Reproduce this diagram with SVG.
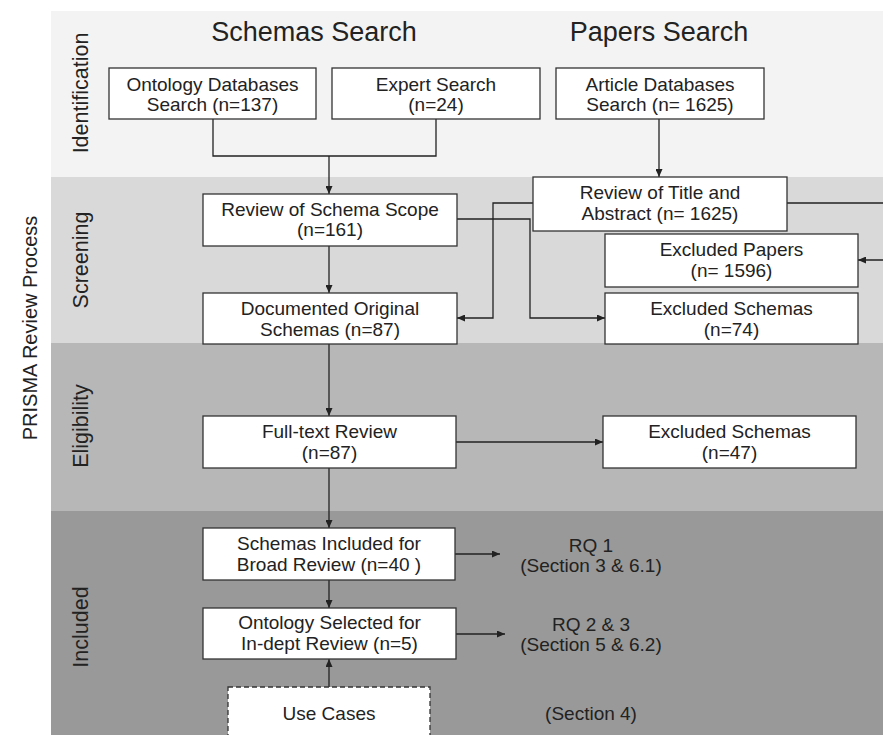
<svg xmlns="http://www.w3.org/2000/svg" width="883" height="735" viewBox="0 0 883 735">
<defs>
<marker id="ah" markerUnits="userSpaceOnUse" markerWidth="8" markerHeight="7" refX="8" refY="3.5" orient="auto"><path d="M0,0 L8,3.5 L0,7 z" fill="#222"/></marker>
<style>
.t{font-family:"Liberation Sans",Arial,sans-serif;font-size:19px;fill:#222;text-anchor:middle}
.h{font-family:"Liberation Sans",Arial,sans-serif;font-size:27px;fill:#222;text-anchor:middle}
.v{font-family:"Liberation Sans",Arial,sans-serif;font-size:21.5px;fill:#222;text-anchor:middle}
.b{fill:#fff;stroke:#333;stroke-width:1.3}
.d{fill:#fff;stroke:#333;stroke-width:1.3;stroke-dasharray:5,3}
.c{fill:none;stroke:#222;stroke-width:1.3;marker-end:url(#ah)}
.n{fill:none;stroke:#222;stroke-width:1.3}
</style>
</defs>
<rect width="883" height="735" fill="#fff"/>
<g id="bands">
<rect x="51" y="11" width="832" height="166" fill="#f3f3f3"/>
<rect x="51" y="177" width="832" height="166" fill="#d9d9d9"/>
<rect x="51" y="343" width="832" height="168" fill="#b7b7b7"/>
<rect x="51" y="511" width="832" height="224" fill="#999999"/>
</g>
<g id="labels">
<text class="v" transform="translate(37,328) rotate(-90)" style="font-size:20px">PRISMA Review Process</text>
<text class="v" transform="translate(88,93) rotate(-90)">Identification</text>
<text class="v" transform="translate(88,260) rotate(-90)">Screening</text>
<text class="v" transform="translate(88,426) rotate(-90)">Eligibility</text>
<text class="v" transform="translate(88,627) rotate(-90)">Included</text>
<text class="h" x="314" y="41">Schemas Search</text>
<text class="h" x="659" y="41">Papers Search</text>
</g>
<g id="connectors">
<path class="n" d="M213,119 V156 H436 V119"/>
<path class="c" d="M329,156 V194"/>
<path class="c" d="M659,119 V177"/>
<path class="c" d="M329,246 V293"/>
<path class="c" d="M533,203 H493 V318 H457"/>
<path class="c" d="M457,219 H530 V318 H605"/>
<path class="c" d="M787,203 H892 V260 H858"/>
<path class="c" d="M329,344 V416"/>
<path class="c" d="M456,442 H603"/>
<path class="c" d="M329,468 V528"/>
<path class="c" d="M329,580 V608"/>
<path class="c" d="M329,687 V659"/>
<path class="c" d="M455,554 H500"/>
<path class="c" d="M456,634 H505"/>
</g>
<g id="ontology-db">
<rect class="b" x="109" y="68" width="207" height="51"/>
<text class="t" x="212.5" y="90.5">Ontology Databases</text>
<text class="t" x="212.5" y="111">Search (n=137)</text>
</g>
<g id="expert-search">
<rect class="b" x="332" y="68" width="208" height="51"/>
<text class="t" x="436" y="90.5">Expert Search</text>
<text class="t" x="436" y="111">(n=24)</text>
</g>
<g id="article-db">
<rect class="b" x="556" y="68" width="208" height="51"/>
<text class="t" x="660" y="90.5">Article Databases</text>
<text class="t" x="660" y="111">Search (n= 1625)</text>
</g>
<g id="schema-scope">
<rect class="b" x="203" y="194" width="254" height="52"/>
<text class="t" x="330" y="215.5">Review of Schema Scope</text>
<text class="t" x="330" y="236">(n=161)</text>
</g>
<g id="title-abstract">
<rect class="b" x="533" y="177" width="254" height="54"/>
<text class="t" x="660" y="199">Review of Title and</text>
<text class="t" x="660" y="220">Abstract (n= 1625)</text>
</g>
<g id="excluded-papers">
<rect class="b" x="605" y="234" width="253" height="53"/>
<text class="t" x="731.5" y="256">Excluded Papers</text>
<text class="t" x="731.5" y="277">(n= 1596)</text>
</g>
<g id="documented">
<rect class="b" x="203" y="293" width="254" height="51"/>
<text class="t" x="330" y="315">Documented Original</text>
<text class="t" x="330" y="336">Schemas (n=87)</text>
</g>
<g id="excluded-schemas-74">
<rect class="b" x="605" y="293" width="253" height="51"/>
<text class="t" x="731.5" y="315">Excluded Schemas</text>
<text class="t" x="731.5" y="336">(n=74)</text>
</g>
<g id="full-text">
<rect class="b" x="203" y="416" width="253" height="52"/>
<text class="t" x="329.5" y="438">Full-text Review</text>
<text class="t" x="329.5" y="459">(n=87)</text>
</g>
<g id="excluded-schemas-47">
<rect class="b" x="603" y="416" width="253" height="52"/>
<text class="t" x="729.5" y="438">Excluded Schemas</text>
<text class="t" x="729.5" y="459">(n=47)</text>
</g>
<g id="included-broad">
<rect class="b" x="203" y="528" width="252" height="52"/>
<text class="t" x="329" y="550">Schemas Included for</text>
<text class="t" x="329" y="571">Broad Review (n=40 )</text>
</g>
<g id="ontology-selected">
<rect class="b" x="203" y="608" width="253" height="51"/>
<text class="t" x="329.5" y="629">Ontology Selected for</text>
<text class="t" x="329.5" y="650">In-dept Review (n=5)</text>
</g>
<g id="use-cases">
<rect class="d" x="228" y="687" width="202" height="60"/>
<text class="t" x="329" y="720">Use Cases</text>
</g>
<g id="rq1">
<text class="t" x="591" y="552">RQ 1</text>
<text class="t" x="591" y="572">(Section 3 &amp; 6.1)</text>
</g>
<g id="rq23">
<text class="t" x="591" y="631">RQ 2 &amp; 3</text>
<text class="t" x="591" y="651">(Section 5 &amp; 6.2)</text>
</g>
<g id="sec4">
<text class="t" x="591" y="720">(Section 4)</text>
</g>
</svg>
